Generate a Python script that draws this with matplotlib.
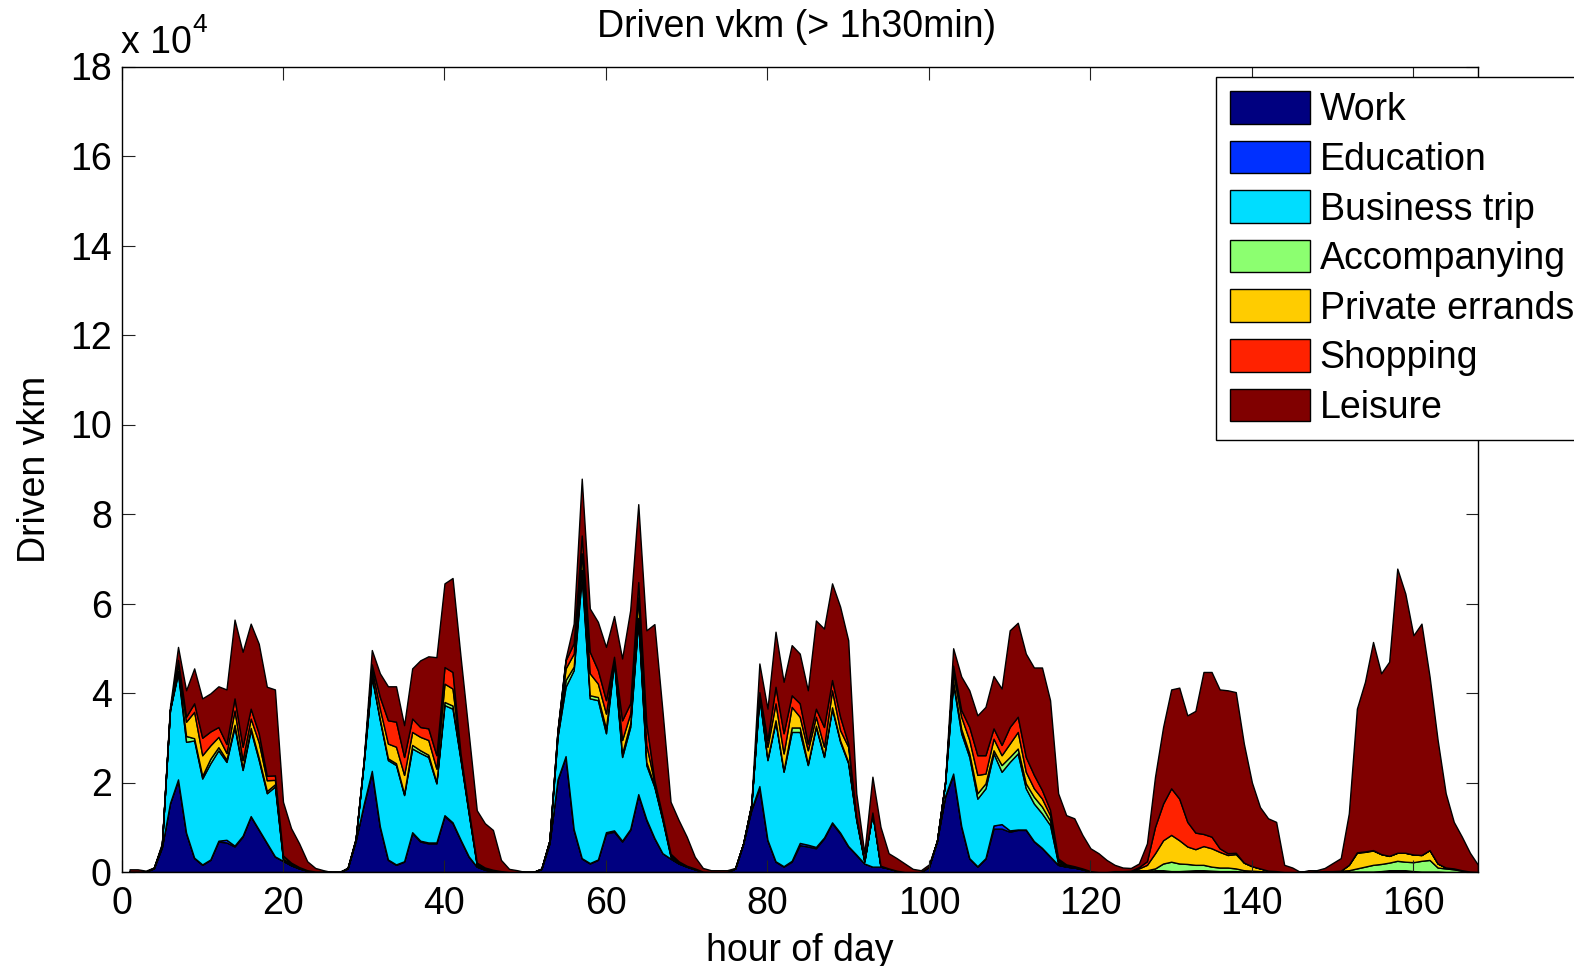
import numpy as np
import matplotlib
matplotlib.use("Agg")
import matplotlib.pyplot as plt

plt.rcParams['font.family'] = ['Liberation Sans', 'DejaVu Sans']

# values in units of 10^4 vkm, hours 1..168
hours = list(range(1, 169))

work = [0.01,0.01,0.01,0.08,0.55,1.53,2.05,0.87,0.31,0.16,0.27,0.68,
        0.66,0.57,0.79,1.24,0.94,0.64,0.34,0.25,0.15,0.08,0.03,0.01,
        0.01,0,0,0.08,0.7,1.5,2.22,1.0,0.27,0.16,0.23,0.87,
        0.68,0.64,0.64,1.25,1.09,0.71,0.34,0.12,0.05,0.02,0.01,0,
        0,0,0,0.07,0.64,2.05,2.57,0.94,0.3,0.19,0.27,0.86,
        0.9,0.68,0.94,1.72,1.16,0.75,0.42,0.3,0.19,0.12,0.06,0.01,
        0,0,0,0.08,0.64,1.38,1.87,0.71,0.23,0.12,0.23,0.6,
        0.57,0.53,0.75,1.09,0.86,0.57,0.38,0.19,0.12,0.12,0.08,0.03,
        0,0,0,0.12,0.7,1.68,2.17,1.01,0.3,0.12,0.3,0.97,
        0.97,0.9,0.94,0.94,0.68,0.53,0.34,0.16,0.12,0.1,0.06,0.01,
        0,0,0.02,0.02,0.02,0.02,0.02,0.03,0.03,0.02,0.02,0.03,
        0.04,0.04,0.03,0.02,0.02,0.02,0.01,0.01,0,0,0,0,
        0,0,0,0.01,0.02,0.02,0.02,0.01,0.01,0.01,0.01,0.02,
        0.04,0.04,0.04,0.02,0.01,0.01,0.01,0,0,0,0,0]

education = [0,0,0,0,0,0.01,0.02,0.01,0.01,0.01,0.01,0.02,
             0.06,0.02,0.02,0.01,0.01,0.01,0.01,0,0,0,0,0,
             0,0,0,0,0,0.02,0.04,0.02,0.01,0.01,0.01,0.02,
             0.02,0.02,0.02,0.02,0.02,0.01,0.01,0,0,0,0,0,
             0,0,0,0,0,0.02,0.02,0.02,0.01,0.01,0.01,0.03,
             0.03,0.02,0.02,0.02,0.02,0.01,0,0,0,0,0,0,
             0,0,0,0,0,0.02,0.05,0.01,0.01,0.01,0.02,0.05,
             0.04,0.03,0.02,0.02,0.02,0.01,0.01,0,0,0,0,0,
             0,0,0,0,0,0.02,0.03,0.02,0.01,0.01,0.01,0.07,
             0.1,0.03,0.01,0.01,0.01,0.01,0.01,0,0,0,0,0,
             0,0,0,0,0,0,0,0.01,0,0,0,0,
             0,0,0,0,0,0,0,0,0,0,0,0,
             0,0,0,0,0,0,0,0,0,0,0,0,
             0,0,0,0,0,0,0,0,0,0,0,0]

business = [0,0,0,0.01,0.05,2.08,2.37,2.03,2.62,1.92,2.15,2.02,
            1.74,2.65,1.47,1.92,1.55,1.11,1.56,0.03,0.01,0,0,0,
            0,0,0,0,0.03,0.93,2.1,2.37,2.22,2.22,1.48,1.87,
            1.96,1.91,1.32,2.46,2.54,1.78,0.96,0.03,0.01,0,0,0,
            0,0,0,0,0.06,0.95,1.55,3.55,6.29,3.68,3.56,2.21,
            3.77,1.87,2.28,3.89,1.21,1.14,0.74,0.04,0.01,0,0,0,
            0,0,0,0,0,0.1,1.99,1.78,3.12,2.11,2.88,2.48,
            1.78,2.68,1.8,2.54,2.03,1.85,0.77,0.04,1.19,0,0,0,
            0,0,0,0,0,0.3,2.01,2.07,2.26,1.51,1.56,1.61,
            1.17,1.53,1.7,0.92,0.84,0.77,0.7,0.03,0,0,0,0,
            0,0,0,0,0,0,0,0,0.01,0,0,0,
            0,0,0,0,0,0,0,0,0,0,0,0,
            0,0,0,0,0,0,0,0,0,0,0,0,
            0,0,0,0,0,0,0,0,0,0,0,0]

accompanying = [0,0,0,0,0,0,0.05,0.13,0.05,0.06,0.1,0.07,
                0.05,0.05,0.05,0.05,0.05,0.05,0.05,0.02,0.01,0.01,0,0,
                0,0,0,0,0,0,0.03,0.03,0.04,0.04,0.03,0.08,
                0.06,0.05,0.03,0.07,0.07,0.03,0.02,0.02,0.01,0.01,0,0,
                0,0,0,0,0,0.03,0.15,0.08,0.15,0.07,0.07,0.11,
                0.03,0.08,0.08,0.05,0.07,0.03,0.03,0.03,0.02,0.01,0.01,0,
                0,0,0,0,0,0,0.03,0.03,0.03,0.03,0.1,0.1,
                0.03,0.03,0.03,0.03,0.03,0.03,0.02,0.01,0.01,0.01,0,0,
                0,0,0,0,0,0,0.05,0.1,0.08,0.12,0.11,0.07,
                0.15,0.11,0.11,0.11,0.15,0.15,0.1,0.04,0.02,0.02,0.01,0.01,
                0,0,0,0,0.01,0.02,0.02,0.04,0.15,0.21,0.17,0.15,
                0.12,0.12,0.09,0.08,0.08,0.06,0.03,0.02,0.02,0.01,0.01,0,
                0,0,0,0,0,0,0.01,0.03,0.07,0.11,0.15,0.16,
                0.17,0.21,0.19,0.2,0.24,0.26,0.09,0.08,0.06,0.03,0.01,0]

private_errands = [0,0,0,0,0,0,0.15,0.32,0.59,0.46,0.3,0.23,
                   0.15,0.32,0.17,0.21,0.35,0.24,0.1,0.05,0.03,0.02,0.01,0,
                   0,0,0,0,0,0.02,0.15,0.23,0.33,0.37,0.42,0.29,
                   0.3,0.33,0.3,0.41,0.38,0.06,0.04,0.03,0.02,0.02,0.01,0,
                   0,0,0,0,0,0.08,0.26,0.29,0.37,0.49,0.3,0.33,
                   0.05,0.3,0.22,0.45,0.38,0.07,0.04,0.03,0.02,0.01,0.01,0,
                   0,0,0,0,0,0,0.05,0.27,0.38,0.38,0.46,0.24,
                   0.3,0.2,0.2,0.38,0.23,0.34,0.04,0.01,0.01,0.01,0,0,
                   0,0,0,0,0,0,0.2,0.27,0.3,0.41,0.22,0.26,
                   0.22,0.3,0.37,0.26,0.19,0.18,0.12,0.04,0.02,0.01,0.01,0,
                   0,0,0,0,0,0.04,0.12,0.34,0.52,0.6,0.52,0.39,
                   0.35,0.42,0.41,0.35,0.28,0.32,0.17,0.1,0.06,0.02,0.01,0,
                   0,0,0,0,0,0,0,0.12,0.35,0.33,0.32,0.22,
                   0.15,0.18,0.2,0.17,0.13,0.22,0.09,0.02,0.02,0.01,0,0]

shopping = [0,0,0,0,0,0,0.1,0.11,0.19,0.39,0.31,0.22,
            0.2,0.27,0.3,0.22,0.2,0.1,0.1,0.02,0.01,0,0,0,
            0,0,0,0,0,0.01,0.1,0.26,0.52,0.56,0.4,0.3,
            0.22,0.26,0.3,0.37,0.37,0.04,0.02,0.01,0.01,0,0,0,
            0,0,0,0,0,0.03,0.18,0.23,0.4,0.48,0.3,0.3,
            0.03,0.44,0.23,0.35,0.48,0.05,0.02,0.01,0,0,0,0,
            0,0,0,0,0,0,0.03,0.15,0.37,0.45,0.26,0.3,
            0.15,0.18,0.44,0.23,0.3,0.07,0.02,0,0,0,0,0,
            0,0,0,0,0,0,0.15,0.15,0.29,0.44,0.41,0.23,
            0.23,0.37,0.34,0.33,0.3,0.19,0.12,0.03,0.01,0,0,0,
            0,0,0,0,0,0.03,0.08,0.59,0.82,1.04,0.93,0.55,
            0.37,0.27,0.26,0.08,0.04,0.03,0,0,0,0,0,0,
            0,0,0,0,0,0,0,0,0.01,0.01,0.01,0,
            0,0,0,0,0,0,0,0,0,0,0,0]

leisure = [0.05,0.05,0.02,0.01,0.04,0.07,0.29,0.59,0.78,0.88,0.85,0.91,
           1.22,1.76,2.12,1.9,2.0,1.99,1.92,1.2,0.77,0.53,0.2,0.08,
           0.03,0,0,0.02,0.02,0.02,0.32,0.53,0.76,0.79,0.71,1.12,
           1.49,1.61,2.19,1.87,2.1,2.17,1.71,1.17,0.99,0.89,0.25,0.07,
           0.04,0,0,0.01,0,0,0.04,0.44,1.27,0.97,1.08,1.19,
           0.91,1.38,2.08,1.74,2.08,3.49,2.35,1.16,0.92,0.65,0.26,0.08,
           0.04,0.04,0.04,0.01,0,0.02,0.64,0.7,1.23,1.15,1.12,1.11,
           1.19,1.97,2.2,2.16,2.46,2.31,0.52,0.17,0.8,0.87,0.34,0.28,
           0.19,0.07,0.04,0.05,0,0,0.39,0.75,0.82,0.89,1.08,1.17,
           1.26,2.16,2.1,2.31,2.4,2.74,2.45,1.46,1.1,1.07,0.75,0.51,
           0.42,0.27,0.14,0.08,0.06,0.08,0.4,1.12,1.71,2.21,2.48,2.38,
           2.72,3.62,3.68,3.55,3.64,3.59,2.66,1.87,1.37,1.17,1.1,0.16,
           0.1,0,0.04,0.03,0.07,0.18,0.28,1.15,3.21,3.79,4.65,4.04,
           4.34,6.35,5.79,4.9,5.17,3.88,2.76,1.66,1.04,0.75,0.42,0.16]

labels = ['Work', 'Education', 'Business trip', 'Accompanying',
          'Private errands', 'Shopping', 'Leisure']
colors = ['#000080', '#0030FF', '#00DDFF', '#8CFF70', '#FFCC00', '#FF2200', '#800000']
series = [work, education, business, accompanying, private_errands, shopping, leisure]

W, H = 1574, 966
fig = plt.figure(figsize=(W / 100, H / 100), dpi=100)
ax = fig.add_axes([121.5 / W, (H - 872) / H, (1478 - 121.5) / W, (872 - 66.5) / H])

ax.stackplot(hours, *series, labels=labels, colors=colors,
             edgecolor='black', linewidth=1.0)

ax.set_xlim(0, 168)
ax.set_ylim(0, 18)
ax.set_xticks(range(0, 161, 20))
ax.set_yticks(range(0, 19, 2))
FS = 27
ax.tick_params(direction='in', length=9, width=0.8, top=True, right=True,
               labelsize=FS, color='#222222')
ax.tick_params(axis='x', pad=10)
ax.tick_params(axis='y', pad=7)
for s in ax.spines.values():
    s.set_linewidth(1.0)

ax.set_xlabel('hour of day', fontsize=FS, labelpad=8)
ax.set_ylabel('Driven vkm', fontsize=FS, labelpad=12)
fig.text(797 / W, 1 - 37 / H, 'Driven vkm (> 1h30min)', fontsize=FS,
         ha='center', va='baseline')

fig.text(121 / W, 1 - 53 / H, 'x 10', fontsize=FS, ha='left', va='baseline')
fig.text(192 / W, 1 - 32 / H, '4', fontsize=19, ha='left', va='baseline')

leg = ax.legend(loc='upper left', bbox_to_anchor=(1216 / W, 1 - 77 / H),
                bbox_transform=fig.transFigure, fontsize=FS, frameon=True,
                fancybox=False, framealpha=1, edgecolor='black',
                handlelength=2.13, handleheight=0.96, handletextpad=0.25,
                labelspacing=0.33, borderpad=0.38, borderaxespad=0)
leg.get_frame().set_linewidth(1.0)
leg.set_zorder(10)

fig.savefig('out.png', dpi=100)
